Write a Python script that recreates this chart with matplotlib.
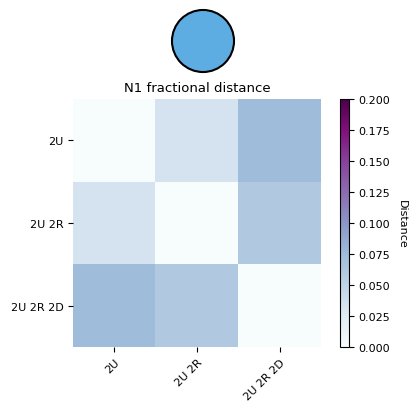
import matplotlib.pyplot as plt
import matplotlib.patches as mpatches
import numpy as np

labels = ['2U', '2U 2R', '2U 2R 2D']
dist = np.array([
    [0.000, 0.034, 0.074],
    [0.034, 0.000, 0.061],
    [0.074, 0.061, 0.000],
])

fig = plt.figure(figsize=(4.13, 4.02), dpi=100)
W, H = 413, 402
ax = fig.add_axes([73 / W, 1 - 348 / H, 248 / W, 248 / H])
cax = fig.add_axes([340 / W, 1 - 348 / H, 9 / W, 248 / H])

im = ax.imshow(dist, cmap='BuPu', vmin=0, vmax=0.2)
ax.set_xticks(range(len(labels)))
ax.set_xticklabels(labels, rotation=45, ha='right', rotation_mode='anchor', fontsize=8)
ax.set_yticks(range(len(labels)))
ax.set_yticklabels(labels, fontsize=8)
for s in ax.spines.values():
    s.set_visible(False)
ax.set_title('N1 fractional distance', fontsize=9.5)

cb = fig.colorbar(im, cax=cax)
cb.set_ticks(np.arange(0, 0.201, 0.025))
cb.ax.tick_params(labelsize=8)
cb.set_label('Distance', rotation=270, labelpad=12, fontsize=8)

# circle icon above the heatmap
cax2 = fig.add_axes([170 / W, 1 - 75 / H, 66 / W, 66 / H])
cax2.add_patch(mpatches.Circle((0.5, 0.5), 0.47, facecolor='#5dade2', edgecolor='black', linewidth=1.5))
cax2.set_xlim(0, 1)
cax2.set_ylim(0, 1)
cax2.set_aspect('equal')
cax2.axis('off')

fig.savefig('out.png', dpi=100)
